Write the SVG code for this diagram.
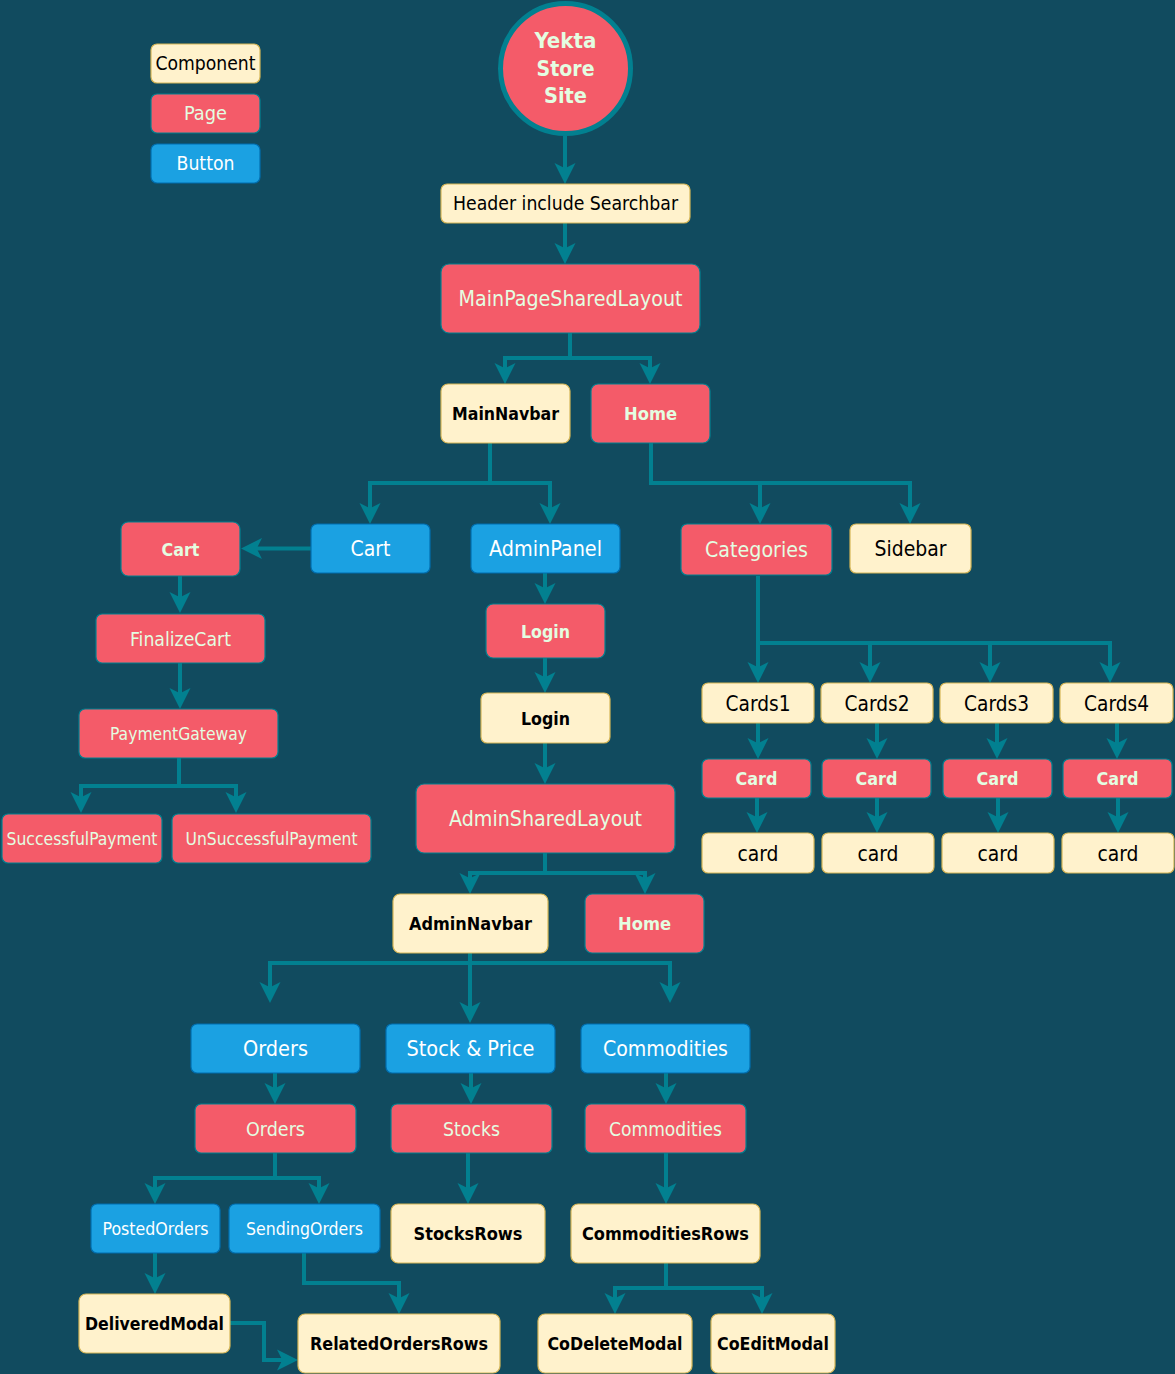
<svg xmlns="http://www.w3.org/2000/svg" width="1175" height="1374" viewBox="0 0 1175 1374">
<style>
text{font-family:"DejaVu Sans Condensed","DejaVu Sans",sans-serif;font-stretch:condensed;text-anchor:middle;lengthAdjust:spacingAndGlyphs}
.c rect{fill:#FFF2CC;stroke:#D6B656;stroke-width:1.2}
.p rect{fill:#F45B69;stroke:#028090;stroke-width:1.2}
.b rect{fill:#1BA1E2;stroke:#006EAF;stroke-width:1.2}
.c text{fill:#000}
.p text{fill:#E4FDE1}
.b text{fill:#FFFFFF}
.bold{font-weight:bold}
#edges path{fill:none;stroke:#028090;stroke-width:4;marker-end:url(#arr)}
</style>
<defs>
<marker id="arr" markerUnits="userSpaceOnUse" viewBox="-22 -11 23 22" markerWidth="23" markerHeight="22" refX="-14" refY="0" orient="auto">
<path d="M0,0 L-21,-10.5 L-15.75,0 L-21,10.5 Z" fill="#028090"/>
</marker>
</defs>
<rect x="0" y="0" width="1175" height="1374" fill="#114B5F"/>

<g id="edges">
<path d="M565,136 V170"/>
<path d="M565,223 V250"/>
<path d="M570,333 V358 H505 V370"/>
<path d="M570,358 H650 V370"/>
<path d="M490,443 V483 H370 V510"/>
<path d="M490,483 H550 V510"/>
<path d="M651,443 V483 H760 V510"/>
<path d="M760,483 H910 V510"/>
<path d="M311,548.5 H255"/>
<path d="M180,576 V599"/>
<path d="M180,663 V695"/>
<path d="M179,758 V786 H81 V799"/>
<path d="M179,786 H236 V799"/>
<path d="M545,573 V590"/>
<path d="M545,658 V679"/>
<path d="M545,743 V770"/>
<path d="M545,853 V873 H470 V880"/>
<path d="M545,873 H645 V880"/>
<path d="M470,953 V963 H270 V989"/>
<path d="M470,963 V1009"/>
<path d="M470,963 H670 V989"/>
<path d="M275,1073 V1090"/>
<path d="M471,1073 V1090"/>
<path d="M666,1073 V1090"/>
<path d="M275,1153 V1178 H155 V1190"/>
<path d="M275,1178 H319 V1190"/>
<path d="M468,1153 V1190"/>
<path d="M666,1153 V1190"/>
<path d="M155,1253 V1280"/>
<path d="M304,1253 V1283 H399 V1300"/>
<path d="M230,1323 H264 V1360 H284"/>
<path d="M666,1263 V1288 H615 V1300"/>
<path d="M666,1288 H762 V1300"/>
<path d="M758,576 V669"/>
<path d="M758,643 H870 V669"/>
<path d="M870,643 H990 V669"/>
<path d="M990,643 H1110 V669"/>
<path d="M758,723 V745"/>
<path d="M877,723 V745"/>
<path d="M997,723 V745"/>
<path d="M1117,723 V745"/>
<path d="M757,798 V819"/>
<path d="M877,798 V819"/>
<path d="M998,798 V819"/>
<path d="M1118,798 V819"/>
</g>

<g id="legend-component" class="c"><rect x="151" y="44" width="109" height="39" rx="6"/><text x="205.5" y="70.4" font-size="19" textLength="100" lengthAdjust="spacingAndGlyphs">Component</text></g>
<g id="legend-page" class="p"><rect x="151" y="94" width="109" height="39" rx="6"/><text x="205.5" y="120.4" font-size="19" textLength="43" lengthAdjust="spacingAndGlyphs">Page</text></g>
<g id="legend-button" class="b"><rect x="151" y="144" width="109" height="39" rx="6"/><text x="205.5" y="170.4" font-size="19" textLength="58" lengthAdjust="spacingAndGlyphs">Button</text></g>

<g id="yekta-store-site" class="p">
<circle cx="565.5" cy="68.5" r="65" fill="#F45B69" stroke="#028090" stroke-width="5"/>
<text class="bold" x="565.5" y="48" font-size="21" textLength="62" lengthAdjust="spacingAndGlyphs">Yekta</text>
<text class="bold" x="565.5" y="76" font-size="21" textLength="58" lengthAdjust="spacingAndGlyphs">Store</text>
<text class="bold" x="565.5" y="103" font-size="21" textLength="43" lengthAdjust="spacingAndGlyphs">Site</text>
</g>

<g id="header" class="c"><rect x="441" y="184" width="249" height="39" rx="6"/><text x="565.5" y="210.4" font-size="19" textLength="225" lengthAdjust="spacingAndGlyphs">Header include Searchbar</text></g>
<g id="main-page-shared-layout" class="p"><rect x="441" y="264" width="259" height="69" rx="8"/><text x="570.5" y="306.2" font-size="21" textLength="224" lengthAdjust="spacingAndGlyphs">MainPageSharedLayout</text></g>
<g id="main-navbar" class="c"><rect x="441" y="384" width="129" height="59" rx="7"/><text class="bold" x="505.5" y="420.1" font-size="18" textLength="107" lengthAdjust="spacingAndGlyphs">MainNavbar</text></g>
<g id="home-main" class="p"><rect x="591" y="384" width="119" height="59" rx="7"/><text class="bold" x="650.5" y="420.1" font-size="18" textLength="53" lengthAdjust="spacingAndGlyphs">Home</text></g>

<g id="cart-button" class="b"><rect x="311" y="524" width="119" height="49" rx="6"/><text x="370.5" y="556.2" font-size="21" textLength="40" lengthAdjust="spacingAndGlyphs">Cart</text></g>
<g id="admin-panel-button" class="b"><rect x="471" y="524" width="149" height="49" rx="6"/><text x="545.5" y="556.2" font-size="21" textLength="113" lengthAdjust="spacingAndGlyphs">AdminPanel</text></g>
<g id="categories" class="p"><rect x="681" y="524" width="151" height="51" rx="6"/><text x="756.5" y="557.2" font-size="21" textLength="103" lengthAdjust="spacingAndGlyphs">Categories</text></g>
<g id="sidebar" class="c"><rect x="850" y="524" width="121" height="49" rx="6"/><text x="910.5" y="556.2" font-size="21" textLength="72" lengthAdjust="spacingAndGlyphs">Sidebar</text></g>

<g id="cart-page" class="p"><rect x="121" y="522" width="119" height="54" rx="7"/><text class="bold" x="180.5" y="555.6" font-size="18" textLength="38" lengthAdjust="spacingAndGlyphs">Cart</text></g>
<g id="finalize-cart" class="p"><rect x="96" y="614" width="169" height="49" rx="6"/><text x="180.5" y="645.8" font-size="20" textLength="101" lengthAdjust="spacingAndGlyphs">FinalizeCart</text></g>
<g id="payment-gateway" class="p"><rect x="79" y="709" width="199" height="49" rx="6"/><text x="178.5" y="740.1" font-size="18" textLength="137" lengthAdjust="spacingAndGlyphs">PaymentGateway</text></g>
<g id="successful-payment" class="p"><rect x="2" y="814" width="160" height="49" rx="6"/><text x="82" y="845.1" font-size="18" textLength="151" lengthAdjust="spacingAndGlyphs">SuccessfulPayment</text></g>
<g id="unsuccessful-payment" class="p"><rect x="172" y="814" width="199" height="49" rx="6"/><text x="271.5" y="845.1" font-size="18" textLength="172" lengthAdjust="spacingAndGlyphs">UnSuccessfulPayment</text></g>

<g id="login-page" class="p"><rect x="486" y="604" width="119" height="54" rx="7"/><text class="bold" x="545.5" y="637.6" font-size="18" textLength="49" lengthAdjust="spacingAndGlyphs">Login</text></g>
<g id="login-component" class="c"><rect x="481" y="693" width="129" height="50" rx="6"/><text class="bold" x="545.5" y="724.6" font-size="18" textLength="49" lengthAdjust="spacingAndGlyphs">Login</text></g>
<g id="admin-shared-layout" class="p"><rect x="416" y="784" width="259" height="69" rx="8"/><text x="545.5" y="826.2" font-size="21" textLength="193" lengthAdjust="spacingAndGlyphs">AdminSharedLayout</text></g>
<g id="admin-navbar" class="c"><rect x="393" y="894" width="155" height="59" rx="7"/><text class="bold" x="470.5" y="930.1" font-size="18" textLength="123" lengthAdjust="spacingAndGlyphs">AdminNavbar</text></g>
<g id="home-admin" class="p"><rect x="585" y="894" width="119" height="59" rx="7"/><text class="bold" x="644.5" y="930.1" font-size="18" textLength="53" lengthAdjust="spacingAndGlyphs">Home</text></g>

<g id="orders-button" class="b"><rect x="191" y="1024" width="169" height="49" rx="6"/><text x="275.5" y="1056.2" font-size="21" textLength="65" lengthAdjust="spacingAndGlyphs">Orders</text></g>
<g id="stock-price-button" class="b"><rect x="386" y="1024" width="169" height="49" rx="6"/><text x="470.5" y="1056.2" font-size="21" textLength="128" lengthAdjust="spacingAndGlyphs">Stock &amp; Price</text></g>
<g id="commodities-button" class="b"><rect x="581" y="1024" width="169" height="49" rx="6"/><text x="665.5" y="1056.2" font-size="21" textLength="125" lengthAdjust="spacingAndGlyphs">Commodities</text></g>
<g id="orders-page" class="p"><rect x="195" y="1104" width="161" height="49" rx="6"/><text x="275.5" y="1135.8" font-size="20" textLength="59" lengthAdjust="spacingAndGlyphs">Orders</text></g>
<g id="stocks-page" class="p"><rect x="391" y="1104" width="161" height="49" rx="6"/><text x="471.5" y="1135.8" font-size="20" textLength="57" lengthAdjust="spacingAndGlyphs">Stocks</text></g>
<g id="commodities-page" class="p"><rect x="585" y="1104" width="161" height="49" rx="6"/><text x="665.5" y="1135.8" font-size="20" textLength="113" lengthAdjust="spacingAndGlyphs">Commodities</text></g>

<g id="posted-orders" class="b"><rect x="91" y="1204" width="129" height="49" rx="6"/><text x="155.5" y="1235.1" font-size="18" textLength="106" lengthAdjust="spacingAndGlyphs">PostedOrders</text></g>
<g id="sending-orders" class="b"><rect x="229" y="1204" width="151" height="49" rx="6"/><text x="304.5" y="1235.1" font-size="18" textLength="117" lengthAdjust="spacingAndGlyphs">SendingOrders</text></g>
<g id="stocks-rows" class="c"><rect x="391" y="1204" width="154" height="59" rx="7"/><text class="bold" x="468" y="1240.1" font-size="18" textLength="109" lengthAdjust="spacingAndGlyphs">StocksRows</text></g>
<g id="commodities-rows" class="c"><rect x="571" y="1204" width="189" height="59" rx="7"/><text class="bold" x="665.5" y="1240.1" font-size="18" textLength="167" lengthAdjust="spacingAndGlyphs">CommoditiesRows</text></g>
<g id="delivered-modal" class="c"><rect x="79" y="1294" width="151" height="59" rx="7"/><text class="bold" x="154.5" y="1330.1" font-size="18" textLength="139" lengthAdjust="spacingAndGlyphs">DeliveredModal</text></g>
<g id="related-orders-rows" class="c"><rect x="298" y="1314" width="202" height="59" rx="7"/><text class="bold" x="399" y="1350.1" font-size="18" textLength="178" lengthAdjust="spacingAndGlyphs">RelatedOrdersRows</text></g>
<g id="co-delete-modal" class="c"><rect x="538" y="1314" width="154" height="59" rx="7"/><text class="bold" x="615" y="1350.1" font-size="18" textLength="135" lengthAdjust="spacingAndGlyphs">CoDeleteModal</text></g>
<g id="co-edit-modal" class="c"><rect x="711" y="1314" width="124" height="59" rx="7"/><text class="bold" x="773" y="1350.1" font-size="18" textLength="112" lengthAdjust="spacingAndGlyphs">CoEditModal</text></g>

<g id="cards1" class="c"><rect x="702" y="683" width="112" height="40" rx="6"/><text x="758" y="710.7" font-size="21" textLength="65" lengthAdjust="spacingAndGlyphs">Cards1</text></g>
<g id="cards2" class="c"><rect x="821" y="683" width="112" height="40" rx="6"/><text x="877" y="710.7" font-size="21" textLength="65" lengthAdjust="spacingAndGlyphs">Cards2</text></g>
<g id="cards3" class="c"><rect x="940" y="683" width="113" height="40" rx="6"/><text x="996.5" y="710.7" font-size="21" textLength="65" lengthAdjust="spacingAndGlyphs">Cards3</text></g>
<g id="cards4" class="c"><rect x="1060" y="683" width="113" height="40" rx="6"/><text x="1116.5" y="710.7" font-size="21" textLength="65" lengthAdjust="spacingAndGlyphs">Cards4</text></g>

<g id="card-page-1" class="p"><rect x="702" y="759" width="109" height="39" rx="6"/><text class="bold" x="756.5" y="785.1" font-size="18" textLength="42" lengthAdjust="spacingAndGlyphs">Card</text></g>
<g id="card-page-2" class="p"><rect x="822" y="759" width="109" height="39" rx="6"/><text class="bold" x="876.5" y="785.1" font-size="18" textLength="42" lengthAdjust="spacingAndGlyphs">Card</text></g>
<g id="card-page-3" class="p"><rect x="943" y="759" width="109" height="39" rx="6"/><text class="bold" x="997.5" y="785.1" font-size="18" textLength="42" lengthAdjust="spacingAndGlyphs">Card</text></g>
<g id="card-page-4" class="p"><rect x="1063" y="759" width="109" height="39" rx="6"/><text class="bold" x="1117.5" y="785.1" font-size="18" textLength="42" lengthAdjust="spacingAndGlyphs">Card</text></g>

<g id="card-comp-1" class="c"><rect x="702" y="833" width="112" height="40" rx="6"/><text x="758" y="860.7" font-size="21" textLength="41" lengthAdjust="spacingAndGlyphs">card</text></g>
<g id="card-comp-2" class="c"><rect x="822" y="833" width="112" height="40" rx="6"/><text x="878" y="860.7" font-size="21" textLength="41" lengthAdjust="spacingAndGlyphs">card</text></g>
<g id="card-comp-3" class="c"><rect x="942" y="833" width="112" height="40" rx="6"/><text x="998" y="860.7" font-size="21" textLength="41" lengthAdjust="spacingAndGlyphs">card</text></g>
<g id="card-comp-4" class="c"><rect x="1062" y="833" width="112" height="40" rx="6"/><text x="1118" y="860.7" font-size="21" textLength="41" lengthAdjust="spacingAndGlyphs">card</text></g>
</svg>
